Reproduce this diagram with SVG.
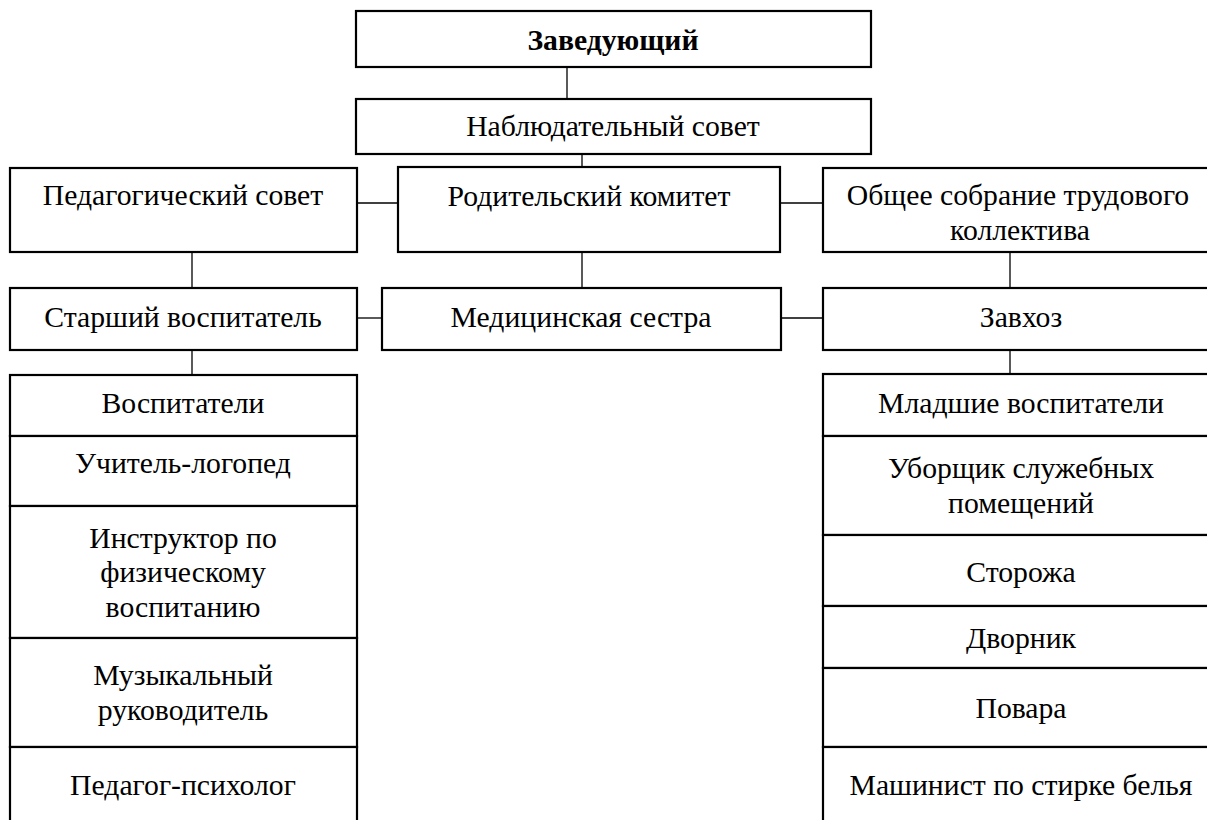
<svg xmlns="http://www.w3.org/2000/svg" width="1207" height="820" viewBox="0 0 1207 820">
<defs>
<style>
.box{fill:#fff;stroke:#000;stroke-width:2.2}
.c{stroke:#000;stroke-width:1.3;fill:none}
</style>
</defs>
<rect width="1207" height="820" fill="#fff"/>
<g id="connectors">
<line class="c" x1="567" y1="67" x2="567" y2="99"/>
<line class="c" x1="582" y1="154" x2="582" y2="167"/>
<line class="c" x1="357" y1="203" x2="398" y2="203"/>
<line class="c" x1="780" y1="203" x2="823" y2="203"/>
<line class="c" x1="192" y1="252" x2="192" y2="288"/>
<line class="c" x1="582" y1="252" x2="582" y2="288"/>
<line class="c" x1="1010" y1="252" x2="1010" y2="288"/>
<line class="c" x1="357" y1="318" x2="382" y2="318"/>
<line class="c" x1="781" y1="318" x2="823" y2="318"/>
<line class="c" x1="192" y1="350" x2="192" y2="375"/>
<line class="c" x1="1010" y1="350" x2="1010" y2="374"/>
</g>
<g font-family="'Liberation Serif', 'Times New Roman', serif" font-size="29.7" text-anchor="middle" fill="#000">
<g id="zaveduyushchiy"><rect class="box" x="356" y="11" width="515" height="56"/><text x="613" y="50" font-weight="bold">Заведующий</text></g>
<g id="nablyudatelnyy"><rect class="box" x="356" y="99" width="515" height="55"/><text x="613" y="136">Наблюдательный совет</text></g>
<g id="pedsovet"><rect class="box" x="10" y="168" width="347" height="84"/><text x="183" y="205">Педагогический совет</text></g>
<g id="roditelskiy"><rect class="box" x="398" y="167" width="382" height="85"/><text x="589" y="206">Родительский комитет</text></g>
<g id="obshchee"><rect class="box" x="823" y="168" width="396" height="84"/><text x="1018" y="205">Общее собрание трудового</text><text x="1020" y="240">коллектива</text></g>
<g id="starshiy"><rect class="box" x="10" y="288" width="347" height="62"/><text x="183" y="327">Старший воспитатель</text></g>
<g id="medsestra"><rect class="box" x="382" y="288" width="399" height="62"/><text x="581" y="327">Медицинская сестра</text></g>
<g id="zavkhoz"><rect class="box" x="823" y="288" width="396" height="62"/><text x="1021" y="327">Завхоз</text></g>
<g id="vospitateli"><rect class="box" x="10" y="375" width="347" height="61"/><text x="183" y="413">Воспитатели</text></g>
<g id="logoped"><rect class="box" x="10" y="436" width="347" height="70"/><text x="183" y="473">Учитель-логопед</text></g>
<g id="instruktor"><rect class="box" x="10" y="506" width="347" height="132"/><text x="183" y="548">Инструктор по</text><text x="183" y="582">физическому</text><text x="183" y="617">воспитанию</text></g>
<g id="muzykalnyy"><rect class="box" x="10" y="638" width="347" height="109"/><text x="183" y="685">Музыкальный</text><text x="183" y="720">руководитель</text></g>
<g id="psikholog"><rect class="box" x="10" y="747" width="347" height="90"/><text x="183" y="795">Педагог-психолог</text></g>
<g id="mladshie"><rect class="box" x="823" y="374" width="396" height="62"/><text x="1021" y="413">Младшие воспитатели</text></g>
<g id="uborshchik"><rect class="box" x="823" y="436" width="396" height="99"/><text x="1021" y="478">Уборщик служебных</text><text x="1021" y="513">помещений</text></g>
<g id="storozha"><rect class="box" x="823" y="535" width="396" height="71"/><text x="1021" y="582">Сторожа</text></g>
<g id="dvornik"><rect class="box" x="823" y="606" width="396" height="62"/><text x="1021" y="648">Дворник</text></g>
<g id="povara"><rect class="box" x="823" y="668" width="396" height="79"/><text x="1021" y="718">Повара</text></g>
<g id="mashinist"><rect class="box" x="823" y="747" width="396" height="90"/><text x="1021" y="795">Машинист по стирке белья</text></g>
</g>
</svg>
